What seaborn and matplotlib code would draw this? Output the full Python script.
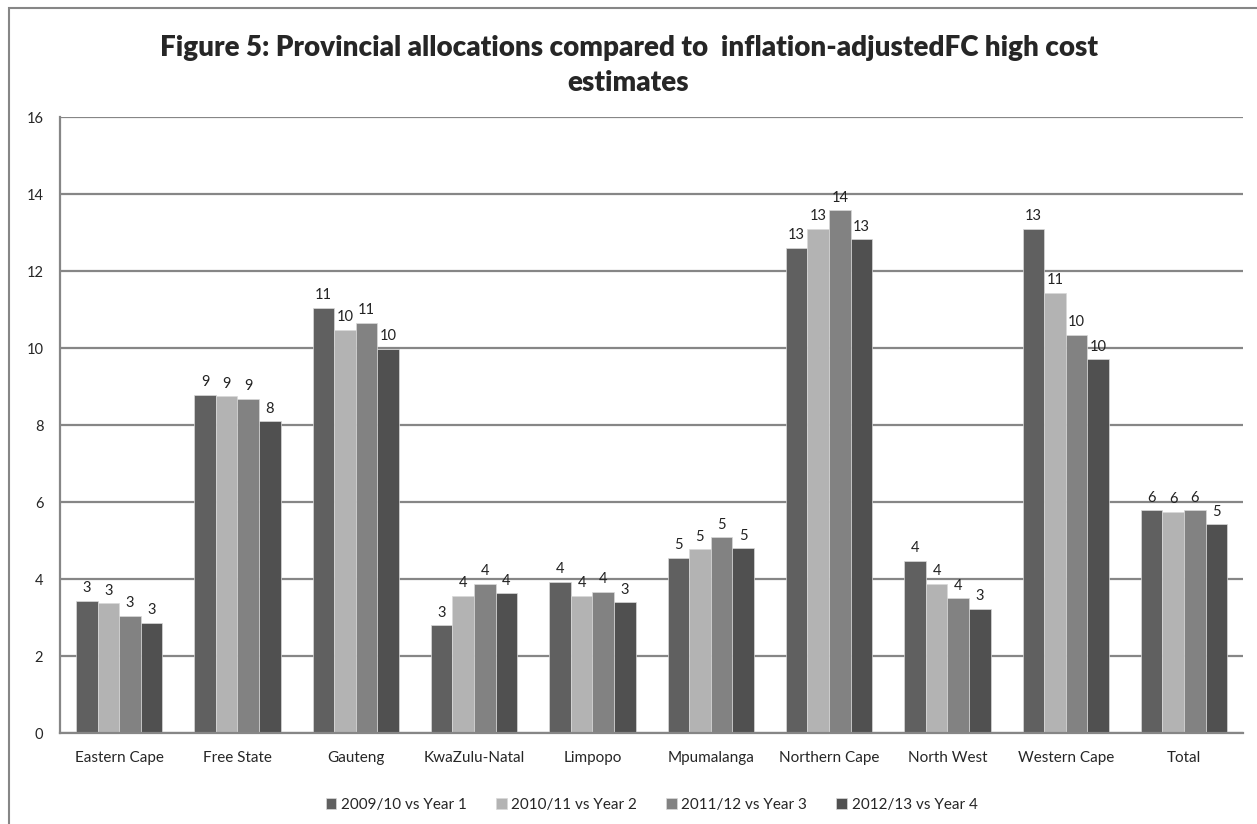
import pandas as pd
import matplotlib.pyplot as plt
import seaborn as sns
from matplotlib.patches import Rectangle
from matplotlib.ticker import FixedLocator, NullFormatter

provinces = ["Eastern Cape", "Free State", "Gauteng", "KwaZulu-Natal", "Limpopo",
             "Mpumalanga", "Northern Cape", "North West", "Western Cape", "Total"]
series = ["2009/10 vs Year 1", "2010/11 vs Year 2", "2011/12 vs Year 3", "2012/13 vs Year 4"]

year1 = [3.43, 8.78, 11.05, 2.80, 3.93, 4.55, 12.60, 4.47, 13.09, 5.78]
year2 = [3.37, 8.75, 10.48, 3.57, 3.57, 4.77, 13.09, 3.87, 11.43, 5.75]
year3 = [3.05, 8.68, 10.65, 3.88, 3.67, 5.08, 13.58, 3.50, 10.34, 5.78]
year4 = [2.86, 8.10, 9.98, 3.63, 3.40, 4.80, 12.83, 3.23, 9.71, 5.42]

colors = ["#606060", "#b3b3b3", "#828282", "#505050"]

df = pd.DataFrame({
    "province": provinces * 4,
    "series": [s for s in series for _ in provinces],
    "value": year1 + year2 + year3 + year4,
})

sns.set_style("white")
plt.rcParams["font.family"] = ["Lato", "DejaVu Sans"]

fig = plt.figure(figsize=(12.57, 8.24), dpi=100)
ax = fig.add_axes([0.0477, 0.1104, 0.9413, 0.7476])

sns.barplot(data=df, x="province", y="value", hue="series", order=provinces,
            hue_order=series, palette=colors, width=0.73, gap=0,
            edgecolor="#d9d9d9", linewidth=0.5, ax=ax, legend=True)

# rounded value labels on top of each bar
for cont in ax.containers:
    ax.bar_label(cont, labels=[f"{round(b.get_height()):d}" for b in cont],
                 padding=4, fontsize=10.5, color="#222222")

ax.set_xlim(-0.5, len(provinces) - 0.5)
ax.set_ylim(0, 16)
ax.set_yticks(range(0, 17, 2))
ax.yaxis.grid(True, color="#868686", linewidth=1.6)
ax.set_axisbelow(True)
ax.set_xlabel("")
ax.set_ylabel("")

for s in ["top", "right"]:
    ax.spines[s].set_visible(False)
for s in ["left", "bottom"]:
    ax.spines[s].set_color("#868686")
    ax.spines[s].set_linewidth(1.6)

# tick marks between categories, labels centred
ax.xaxis.set_minor_locator(FixedLocator([i - 0.5 for i in range(len(provinces) + 1)]))
ax.xaxis.set_minor_formatter(NullFormatter())
ax.tick_params(axis="x", which="major", length=0, pad=13, labelsize=11)
ax.tick_params(axis="x", which="minor", length=6, width=1.6, color="#868686", direction="out")
ax.tick_params(axis="y", length=6, width=1.6, color="#868686", direction="out",
               labelsize=10.5, pad=6)

ax.legend(loc="upper center", bbox_to_anchor=(0.5, -0.083), ncol=4, frameon=False,
          fontsize=11, handlelength=0.7, handleheight=0.7, handletextpad=0.3,
          columnspacing=1.9)

fig.suptitle("Figure 5: Provincial allocations compared to  inflation-adjustedFC high cost\nestimates",
             fontsize=20, fontweight="heavy", y=0.958, linespacing=1.45)

fig.patches.append(Rectangle((9 / 1257, -0.05), 1.2, (824 - 8) / 824 + 0.05,
                             transform=fig.transFigure, fill=False,
                             edgecolor="#868686", linewidth=1.5))

plt.savefig("out.png", dpi=100)
plt.close()
